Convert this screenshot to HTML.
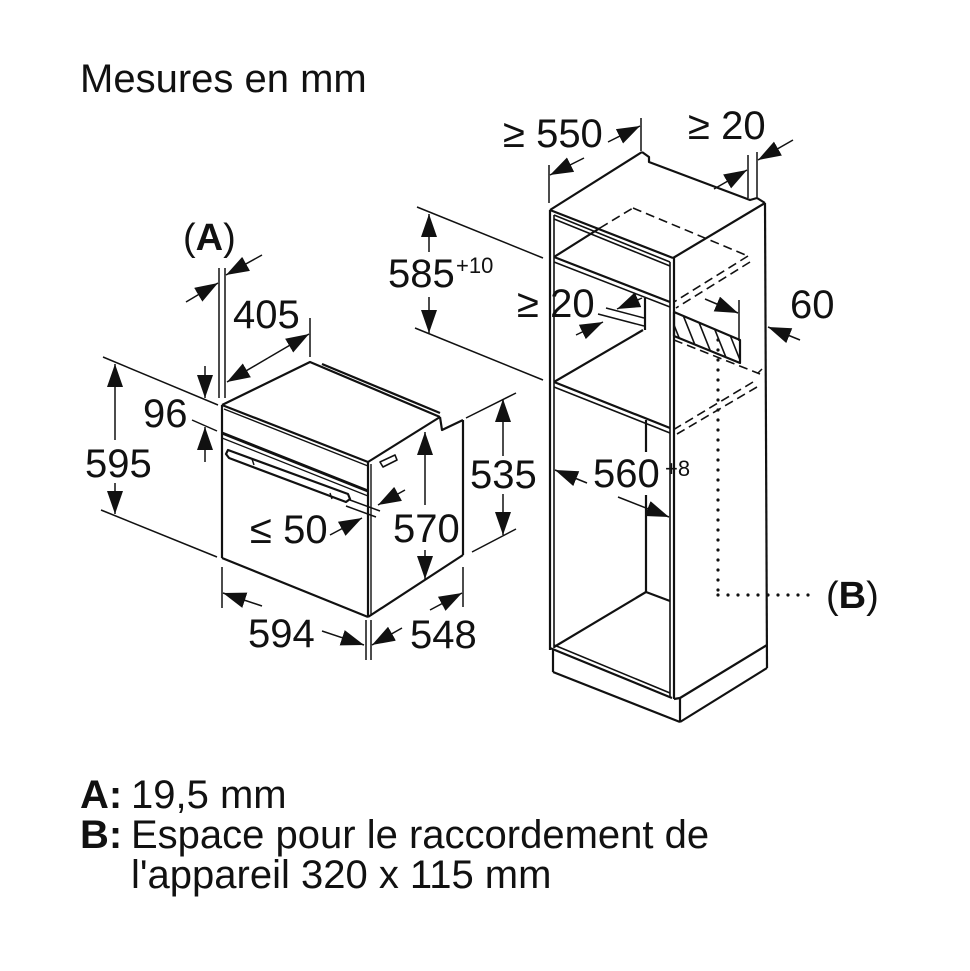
<!DOCTYPE html>
<html><head><meta charset="utf-8"><style>
html,body{margin:0;padding:0;background:#fff;}
svg{display:block;}
text{font-family:"Liberation Sans",Arial,sans-serif;fill:#111;}
</style></head><body>
<svg width="970" height="971" viewBox="0 0 970 971" xmlns="http://www.w3.org/2000/svg">
<defs>
<marker id="a" markerWidth="26" markerHeight="18" refX="23" refY="8" orient="auto" markerUnits="userSpaceOnUse"><path d="M0,0 L23,8 L0,16 z" fill="#111"/></marker>
<clipPath id="hc"><polygon points="674,312 740,340 740,363 674,336"/></clipPath>
</defs>
<rect width="970" height="971" fill="#fff"/>

<!-- Title -->
<text x="80" y="92" font-size="40">Mesures en mm</text>

<!-- ================= OVEN ================= -->
<g stroke="#111" stroke-width="2.2" fill="none" stroke-linejoin="round">
  <polyline points="222,405 310,362 440,417"/>
  <line x1="322" y1="364" x2="440" y2="413"/>
  <line x1="368" y1="462" x2="440" y2="417"/>
  <polyline points="440,417 442,430 463,420"/>
  <line x1="463" y1="420" x2="463" y2="555"/>
  <line x1="368" y1="617" x2="463" y2="555"/>
  <path d="M380,462 L395,455 L397,460 L383,467 Z" stroke-width="1.6"/>
  <line x1="222" y1="405" x2="222" y2="558"/>
  <line x1="222" y1="405" x2="368" y2="462"/>
  <line x1="224" y1="409" x2="368" y2="466" stroke-width="1.4"/>
  <line x1="222" y1="433" x2="368" y2="491" stroke-width="3"/>
  <line x1="222" y1="438" x2="368" y2="496" stroke-width="1.3"/>
  <line x1="222" y1="558" x2="368" y2="617"/>
  <line x1="368" y1="462" x2="368" y2="617"/>
  <line x1="371" y1="464" x2="371" y2="616" stroke-width="1.4"/>
  <path d="M228,450 L348,494 L350,499 L346,502 L229,458 L226,454 Z" fill="#fff"/>
  <line x1="252" y1="459" x2="254" y2="465" stroke-width="1.4"/>
  <line x1="330" y1="493" x2="332" y2="499" stroke-width="1.4"/>
</g>

<!-- oven dimensions -->
<g stroke="#111" stroke-width="1.5" fill="none">
  <line x1="219" y1="268" x2="219" y2="398"/>
  <line x1="225" y1="268" x2="225" y2="398"/>
  <line x1="186" y1="302" x2="218" y2="283" marker-end="url(#a)"/>
  <line x1="262" y1="255" x2="226" y2="275" marker-end="url(#a)"/>
  <line x1="310" y1="318" x2="310" y2="357"/>
  <line x1="268" y1="358" x2="227" y2="382" marker-end="url(#a)"/>
  <line x1="268" y1="358" x2="309" y2="334" marker-end="url(#a)"/>
  <line x1="103" y1="357" x2="218" y2="405"/>
  <line x1="192" y1="420" x2="217" y2="431"/>
  <line x1="101" y1="510" x2="217" y2="557"/>
  <line x1="205" y1="366" x2="205" y2="398" marker-end="url(#a)"/>
  <line x1="205" y1="462" x2="205" y2="427" marker-end="url(#a)"/>
  <line x1="115" y1="440" x2="115" y2="364" marker-end="url(#a)"/>
  <line x1="115" y1="483" x2="115" y2="514" marker-end="url(#a)"/>
  <line x1="466" y1="418" x2="516" y2="393"/>
  <line x1="472" y1="552" x2="516" y2="529"/>
  <line x1="503" y1="456" x2="503" y2="399" marker-end="url(#a)"/>
  <line x1="503" y1="494" x2="503" y2="535" marker-end="url(#a)"/>
  <line x1="425" y1="505" x2="425" y2="432" marker-end="url(#a)"/>
  <line x1="425" y1="550" x2="425" y2="579" marker-end="url(#a)"/>
  <line x1="350" y1="500" x2="380" y2="511"/>
  <line x1="346" y1="506" x2="376" y2="517"/>
  <line x1="405" y1="490" x2="378" y2="505" marker-end="url(#a)"/>
  <line x1="330" y1="535" x2="362" y2="518" marker-end="url(#a)"/>
  <line x1="222" y1="567" x2="222" y2="608"/>
  <line x1="366" y1="620" x2="366" y2="660"/>
  <line x1="371" y1="620" x2="371" y2="660"/>
  <line x1="463" y1="567" x2="463" y2="607"/>
  <line x1="262" y1="606" x2="223" y2="593" marker-end="url(#a)"/>
  <line x1="322" y1="631" x2="364" y2="645" marker-end="url(#a)"/>
  <line x1="402" y1="628" x2="372" y2="645" marker-end="url(#a)"/>
  <line x1="430" y1="610" x2="462" y2="593" marker-end="url(#a)"/>
</g>

<text x="183" y="250" font-size="38">(<tspan font-weight="bold">A</tspan>)</text>
<text x="233" y="328" font-size="40">405</text>
<text x="143" y="427" font-size="40">96</text>
<text x="85" y="477" font-size="40">595</text>
<text x="470" y="488" font-size="40">535</text>
<text x="393" y="542" font-size="40">570</text>
<text x="250" y="543" font-size="40">≤ 50</text>
<text x="248" y="647" font-size="40">594</text>
<text x="410" y="648" font-size="40">548</text>

<!-- ================= CABINET ================= -->
<g stroke="#111" stroke-width="2.2" fill="none" stroke-linejoin="round">
  <line x1="550" y1="210" x2="642" y2="152"/>
  <polyline points="642,152 649,157 649,162 750,200 757,198 765,203"/>
  <line x1="550" y1="210" x2="673" y2="258"/>
  <line x1="673" y1="258" x2="765" y2="203"/>
  <line x1="765" y1="203" x2="767" y2="668"/>
  <line x1="550" y1="210" x2="550" y2="650"/>
  <line x1="554" y1="215" x2="554" y2="648" stroke-width="1.6"/>
  <line x1="670" y1="262" x2="670" y2="697" stroke-width="1.6"/>
  <line x1="674" y1="258" x2="674" y2="699"/>
  <line x1="554" y1="215" x2="670" y2="262" stroke-width="1.6"/>
  <line x1="554" y1="219" x2="670" y2="266" stroke-width="1.6"/>
  <line x1="554" y1="257" x2="670" y2="302"/>
  <line x1="554" y1="262" x2="670" y2="307" stroke-width="1.6"/>
  <line x1="554" y1="257" x2="600" y2="228"/>
  <line x1="645" y1="298" x2="645" y2="330"/>
  <line x1="554" y1="382" x2="670" y2="428"/>
  <line x1="554" y1="387" x2="670" y2="433" stroke-width="1.6"/>
  <line x1="554" y1="382" x2="643" y2="330"/>
  <line x1="646" y1="420" x2="646" y2="452"/>
  <line x1="646" y1="495" x2="646" y2="592"/>
  <line x1="550" y1="648" x2="672" y2="698"/>
  <line x1="554" y1="645" x2="670" y2="693" stroke-width="1.6"/>
  <line x1="554" y1="647" x2="646" y2="592"/>
  <line x1="646" y1="592" x2="670" y2="601"/>
  <line x1="553" y1="650" x2="553" y2="672"/>
  <line x1="553" y1="672" x2="680" y2="722"/>
  <line x1="680" y1="698" x2="680" y2="722"/>
  <line x1="680" y1="722" x2="767" y2="668"/>
  <line x1="680" y1="698" x2="767" y2="645"/>
  <line x1="674" y1="699" x2="680" y2="698"/>
  <polygon points="674,312 740,340 740,363 674,336"/>
</g>
<g stroke="#111" stroke-width="1.6" clip-path="url(#hc)">
  <line x1="664" y1="300" x2="694" y2="375"/>
  <line x1="677" y1="300" x2="707" y2="375"/>
  <line x1="690" y1="300" x2="720" y2="375"/>
  <line x1="703" y1="300" x2="733" y2="375"/>
  <line x1="716" y1="300" x2="746" y2="375"/>
  <line x1="729" y1="300" x2="759" y2="375"/>
</g>
<g stroke="#111" stroke-width="1.6" fill="none" stroke-dasharray="9 5">
  <line x1="600" y1="228" x2="633" y2="208"/>
  <line x1="633" y1="208" x2="748" y2="256"/>
  <line x1="748" y1="256" x2="674" y2="302"/>
  <line x1="750" y1="262" x2="676" y2="308"/>
  <line x1="674" y1="340" x2="760" y2="374"/>
  <line x1="753" y1="382" x2="673" y2="430"/>
  <line x1="757" y1="387" x2="677" y2="434"/>
</g>
<path d="M758,373 L762,369" stroke="#111" stroke-width="1.5"/>
<g stroke="#111" stroke-width="3.2" stroke-linecap="round" stroke-dasharray="0 10" fill="none">
  <line x1="718" y1="340" x2="718" y2="595"/>
  <line x1="718" y1="595" x2="818" y2="595"/>
</g>

<g stroke="#111" stroke-width="1.5" fill="none">
  <line x1="549" y1="165" x2="549" y2="203"/>
  <line x1="641" y1="118" x2="641" y2="151"/>
  <line x1="584" y1="158" x2="550" y2="175" marker-end="url(#a)"/>
  <line x1="608" y1="142" x2="640" y2="126" marker-end="url(#a)"/>
  <line x1="748" y1="155" x2="748" y2="198"/>
  <line x1="757" y1="152" x2="757" y2="197"/>
  <line x1="714" y1="189" x2="747" y2="170" marker-end="url(#a)"/>
  <line x1="793" y1="140" x2="758" y2="160" marker-end="url(#a)"/>
  <line x1="417" y1="207" x2="543" y2="258"/>
  <line x1="415" y1="328" x2="543" y2="380"/>
  <line x1="429" y1="252" x2="429" y2="214" marker-end="url(#a)"/>
  <line x1="429" y1="297" x2="429" y2="333" marker-end="url(#a)"/>
  <line x1="598" y1="314" x2="644" y2="326"/>
  <line x1="606" y1="308" x2="644" y2="318"/>
  <line x1="642" y1="298" x2="617" y2="309" marker-end="url(#a)"/>
  <line x1="576" y1="335" x2="603" y2="322" marker-end="url(#a)"/>
  <line x1="739" y1="300" x2="739" y2="341"/>
  <line x1="705" y1="299" x2="738" y2="313" marker-end="url(#a)"/>
  <line x1="800" y1="340" x2="768" y2="327" marker-end="url(#a)"/>
  <line x1="587" y1="483" x2="555" y2="470" marker-end="url(#a)"/>
  <line x1="618" y1="497" x2="669" y2="517" marker-end="url(#a)"/>
</g>

<text x="503" y="147" font-size="40">≥ 550</text>
<text x="688" y="139" font-size="40">≥ 20</text>
<text x="388" y="287" font-size="40">585</text>
<text x="456" y="273" font-size="22">+10</text>
<text x="517" y="317" font-size="40">≥ 20</text>
<text x="790" y="318" font-size="40">60</text>
<text x="593" y="487" font-size="40">560</text>
<text x="665" y="476" font-size="22">+8</text>
<text x="826" y="608" font-size="38">(<tspan font-weight="bold">B</tspan>)</text>

<text x="80" y="808" font-size="40"><tspan font-weight="bold">A:</tspan></text>
<text x="131" y="808" font-size="40">19,5 mm</text>
<text x="80" y="848" font-size="40"><tspan font-weight="bold">B:</tspan></text>
<text x="131" y="848" font-size="40">Espace pour le raccordement de</text>
<text x="131" y="888" font-size="40">l'appareil 320 x 115 mm</text>
</svg>
</body></html>
